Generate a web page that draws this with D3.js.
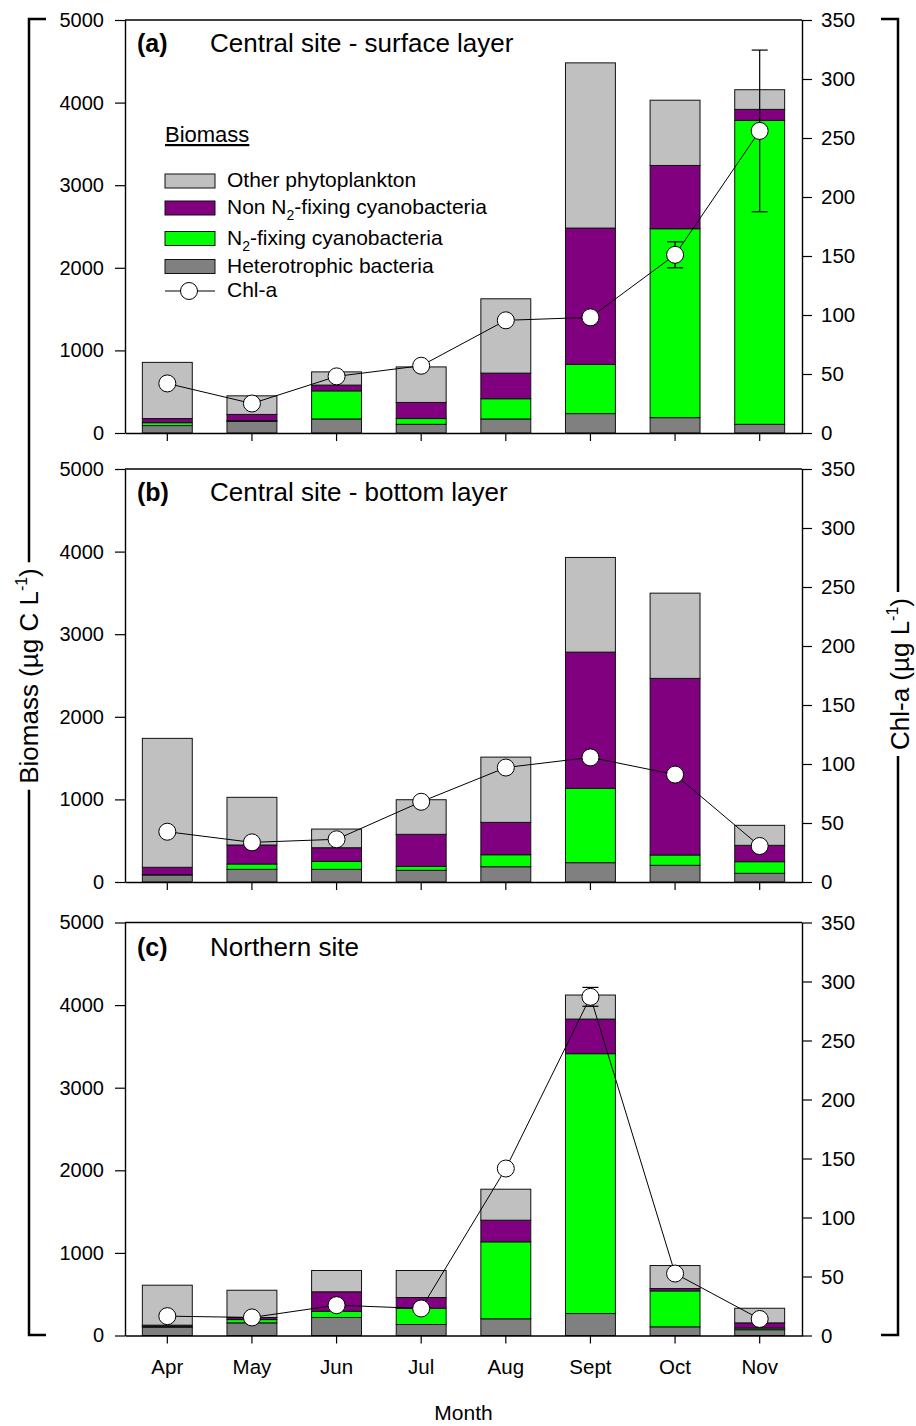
<!DOCTYPE html>
<html>
<head>
<meta charset="utf-8">
<script src="https://cdnjs.cloudflare.com/ajax/libs/d3/7.8.5/d3.min.js"></script>
<style>
  body { margin: 0; background: #fff; }
  svg { font-family: "Liberation Sans", Arial, sans-serif; }
</style>
</head>
<body>
<div id="chart"></div>
<script>
// months on the x axis
var months = ["Apr", "May", "Jun", "Jul", "Aug", "Sept", "Oct", "Nov"];

// (a) central site - surface layer, biomass ug C/L
var heteroA = [90, 140, 170, 105, 170, 235, 186, 105];
var n2A     = [35, 10, 340, 70, 245, 596, 2287, 3680];
var nonA    = [50, 75, 70, 195, 310, 1650, 766, 133];
var otherA  = [680, 225, 160, 430, 900, 2000, 790, 238];
var chlA    = [42, 25, 48, 57, 95.5, 98, 151, 256];
var errA    = [0, 0, 0, 0, 0, 0, 11, 68.5];

// (b) central site - bottom layer
var heteroB = [85, 153, 153, 141, 185, 234, 202, 105];
var n2B     = [5, 65, 97, 49, 145, 900, 125, 141];
var nonB    = [88, 230, 165, 387, 392, 1649, 2138, 198];
var otherB  = [1561, 577, 226, 419, 790, 1146, 1032, 242];
var chlB    = [42.6, 33.6, 36.2, 68, 97, 105.6, 91, 30.5];
var errB    = [0, 0, 0, 0, 0, 0, 0, 0];

// (c) northern site
var heteroC = [100, 153, 218, 133, 202, 266, 105, 70];
var n2C     = [10, 40, 76, 197, 932, 3146, 435, 20];
var nonC    = [15, 25, 235, 130, 262, 419, 29, 63];
var otherC  = [484, 330, 258, 327, 375, 291, 278, 177];
var chlC    = [16.4, 15.3, 25.7, 22.9, 141.5, 287, 52.5, 14];
var errC    = [0, 0, 0, 0, 0, 8, 0, 0];

var biomassTicks = [0, 1000, 2000, 3000, 4000, 5000];
var chlTicks = [0, 50, 100, 150, 200, 250, 300, 350];

var keys = ["hetero", "n2", "non", "other"];
var colors = { hetero: "#808080", n2: "#00ff00", non: "#800080", other: "#c0c0c0" };

var W = 916, H = 1426;
var left = 125, right = 802, panelH = 413;

var svg = d3.select("#chart").append("svg")
	.attr("width", W)
	.attr("height", H);

var x = d3.scaleBand()
	.domain(months)
	.range([left, right])
	.paddingInner(0.41)
	.paddingOuter(0.205);

var panels = [
	{ tag: "(a)", title: "Central site - surface layer", top: 20,
	  bars: [heteroA, n2A, nonA, otherA], chl: chlA, err: errA },
	{ tag: "(b)", title: "Central site - bottom layer", top: 469,
	  bars: [heteroB, n2B, nonB, otherB], chl: chlB, err: errB },
	{ tag: "(c)", title: "Northern site", top: 922.5,
	  bars: [heteroC, n2C, nonC, otherC], chl: chlC, err: errC }
];

var y = d3.scaleLinear().domain([0, 5000]).range([panelH, 0]);
var y2 = d3.scaleLinear().domain([0, 350]).range([panelH, 0]);

function styleAxis(sel, size) {
	sel.attr("font-family", null).attr("font-size", size);
	sel.selectAll("text").attr("fill", "#000");
	sel.selectAll("line").attr("stroke", "#000").attr("stroke-width", 1.2);
	sel.select(".domain").attr("stroke", "#000").attr("stroke-width", 1.4);
}

panels.forEach(function(p, pi) {
	var g = svg.append("g").attr("transform", "translate(0," + p.top + ")");

	var rows = months.map(function(m, i) {
		return { month: m, hetero: p.bars[0][i], n2: p.bars[1][i], non: p.bars[2][i], other: p.bars[3][i] };
	});
	var series = d3.stack().keys(keys)(rows);

	g.selectAll(".layer")
		.data(series)
		.enter().append("g")
		.attr("class", "layer")
		.attr("fill", function(d) { return colors[d.key]; })
		.selectAll("rect")
		.data(function(d) { return d; })
		.enter().append("rect")
		.attr("x", function(d) { return x(d.data.month); })
		.attr("width", x.bandwidth())
		.attr("y", function(d) { return y(d[1]); })
		.attr("height", function(d) { return y(d[0]) - y(d[1]); })
		.attr("stroke", "#111")
		.attr("stroke-width", 1);

	// top of the frame
	g.append("line")
		.attr("x1", left).attr("x2", right)
		.attr("y1", 0).attr("y2", 0)
		.attr("stroke", "#000").attr("stroke-width", 1.4);

	var ax = g.append("g")
		.attr("transform", "translate(" + left + ",0)")
		.call(d3.axisLeft(y).tickValues(biomassTicks).tickFormat(d3.format("d"))
			.tickSize(10).tickPadding(11).tickSizeOuter(0));
	styleAxis(ax, 20);

	var ax2 = g.append("g")
		.attr("transform", "translate(" + right + ",0)")
		.call(d3.axisRight(y2).tickValues(chlTicks).tickFormat(d3.format("d"))
			.tickSize(10).tickPadding(9).tickSizeOuter(0));
	styleAxis(ax2, 20.5);

	var xa = d3.axisBottom(x).tickSize(8).tickPadding(16).tickSizeOuter(0);
	if (pi < 2) xa.tickFormat("");
	var ax3 = g.append("g")
		.attr("transform", "translate(0," + panelH + ")")
		.call(xa);
	styleAxis(ax3, 20.5);

	// chl-a line, error bars, markers
	var pts = months.map(function(m, i) { return { month: m, v: p.chl[i], e: p.err[i] }; });
	var cx = function(d) { return x(d.month) + x.bandwidth() / 2; };

	g.append("path")
		.datum(pts)
		.attr("fill", "none")
		.attr("stroke", "#000")
		.attr("stroke-width", 1)
		.attr("d", d3.line().x(cx).y(function(d) { return y2(d.v); }));

	var eb = g.selectAll(".err")
		.data(pts.filter(function(d) { return d.e > 0; }))
		.enter().append("g")
		.attr("class", "err")
		.attr("stroke", "#000")
		.attr("stroke-width", 1.2);
	eb.append("line")
		.attr("x1", cx).attr("x2", cx)
		.attr("y1", function(d) { return y2(d.v + d.e); })
		.attr("y2", function(d) { return y2(d.v - d.e); });
	eb.append("line")
		.attr("x1", function(d) { return cx(d) - 8; }).attr("x2", function(d) { return cx(d) + 8; })
		.attr("y1", function(d) { return y2(d.v + d.e); })
		.attr("y2", function(d) { return y2(d.v + d.e); });
	eb.append("line")
		.attr("x1", function(d) { return cx(d) - 8; }).attr("x2", function(d) { return cx(d) + 8; })
		.attr("y1", function(d) { return y2(d.v - d.e); })
		.attr("y2", function(d) { return y2(d.v - d.e); });

	g.selectAll(".chl")
		.data(pts)
		.enter().append("circle")
		.attr("class", "chl")
		.attr("cx", cx)
		.attr("cy", function(d) { return y2(d.v); })
		.attr("r", 8.5)
		.attr("fill", "#fff")
		.attr("stroke", "#000")
		.attr("stroke-width", 1);

	// panel label + title
	g.append("text")
		.attr("x", 137).attr("y", pi == 2 ? 33 : 32)
		.attr("font-size", 25).attr("font-weight", "bold")
		.text(p.tag);
	g.append("text")
		.attr("x", 210).attr("y", pi == 2 ? 33 : 32)
		.attr("font-size", 26)
		.text(p.title);
});

// legend, inside panel (a)
var lg = svg.append("g");
lg.append("text")
	.attr("x", 165).attr("y", 142)
	.attr("font-size", 22)
	.attr("text-decoration", "underline")
	.text("Biomass");

var legendItems = [
	{ key: "other", y: 174, label: ["Other phytoplankton"] },
	{ key: "non", y: 201, label: ["Non N", "2", "-fixing cyanobacteria"] },
	{ key: "n2", y: 231.5, label: ["N", "2", "-fixing cyanobacteria"] },
	{ key: "hetero", y: 259.5, label: ["Heterotrophic bacteria"] }
];
legendItems.forEach(function(d) {
	lg.append("rect")
		.attr("x", 165).attr("y", d.y)
		.attr("width", 50).attr("height", 14)
		.attr("fill", colors[d.key])
		.attr("stroke", "#111").attr("stroke-width", 1);
	var t = lg.append("text")
		.attr("x", 227).attr("y", d.y + 13)
		.attr("font-size", 21);
	t.append("tspan").text(d.label[0]);
	if (d.label.length > 1) {
		t.append("tspan").attr("dy", 6).attr("font-size", 14).text(d.label[1]);
		t.append("tspan").attr("dy", -6).text(d.label[2]);
	}
});
lg.append("line")
	.attr("x1", 165).attr("x2", 215)
	.attr("y1", 291).attr("y2", 291)
	.attr("stroke", "#000").attr("stroke-width", 1);
lg.append("circle")
	.attr("cx", 189).attr("cy", 291).attr("r", 8.5)
	.attr("fill", "#fff").attr("stroke", "#000");
lg.append("text")
	.attr("x", 227).attr("y", 297)
	.attr("font-size", 21)
	.text("Chl-a");

// x axis title
svg.append("text")
	.attr("x", (left + right) / 2).attr("y", 1420)
	.attr("text-anchor", "middle")
	.attr("font-size", 21)
	.text("Month");

// side titles with brackets
function sideTitle(xPos, lineX, tickDir, cy, parts) {
	var t = svg.append("text")
		.attr("transform", "translate(" + xPos + "," + cy + ") rotate(-90)")
		.attr("text-anchor", "middle")
		.attr("font-size", 26);
	t.append("tspan").text(parts[0]);
	t.append("tspan").attr("dy", -11).attr("font-size", 16).text(parts[1]);
	t.append("tspan").attr("dy", 11).text(parts[2]);
	var bb = t.node().getBBox();
	var half = bb.width / 2 + 6;
	var top = 19, bottom = 1335;
	var br = svg.append("g").attr("stroke", "#000").attr("stroke-width", 2.5).attr("fill", "none");
	br.append("path").attr("d", "M" + (lineX + tickDir) + "," + top + "H" + lineX + "V" + (cy - half));
	br.append("path").attr("d", "M" + lineX + "," + (cy + half) + "V" + bottom + "H" + (lineX + tickDir));
}
sideTitle(38, 29, 17, 676, ["Biomass (\u00b5g C L", "-1", ")"]);
sideTitle(909, 898, -17, 674, ["Chl-a (\u00b5g L", "-1", ")"]);
</script>
</body>
</html>
